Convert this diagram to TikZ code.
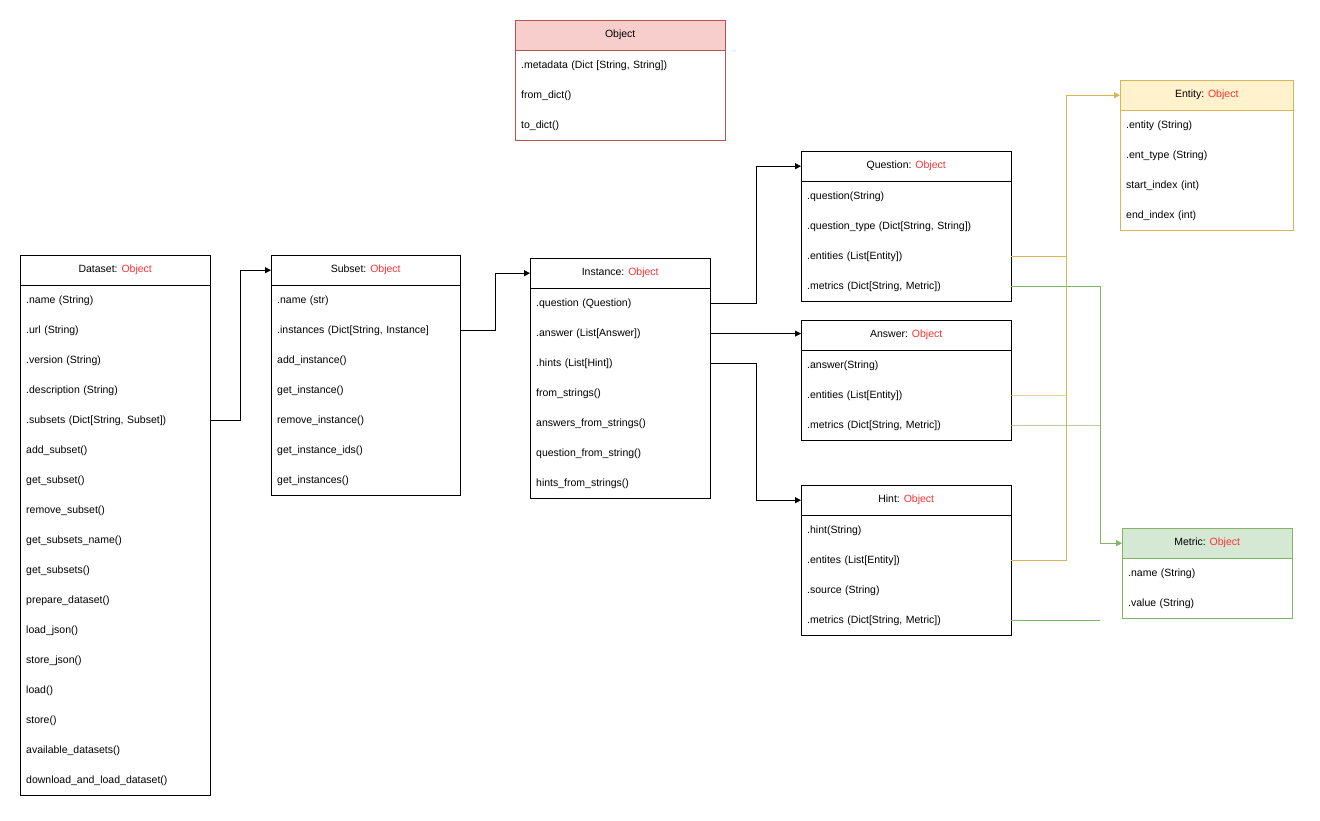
\documentclass[tikz,border=0pt]{standalone}
\usepackage{fontspec}
\setmainfont{Liberation Sans}
\usepackage{xcolor}
\usetikzlibrary{arrows.meta,positioning,calc}
\definecolor{objred}{HTML}{FF3333}
\definecolor{redfill}{HTML}{F8CECC}
\definecolor{reddraw}{HTML}{B85450}
\definecolor{yelfill}{HTML}{FFF2CC}
\definecolor{yeldraw}{HTML}{D6B656}
\definecolor{grnfill}{HTML}{D5E8D4}
\definecolor{grndraw}{HTML}{82B366}
\tikzset{
  hdr/.style={draw,anchor=north west,minimum height=30,inner sep=0pt,font=\fontsize{10.5}{12}\selectfont},
  row/.style={anchor=north west,minimum height=30,inner xsep=6,inner ysep=0pt,align=left,font=\fontsize{10.5}{12}\selectfont},
  conn/.style={-{Triangle[length=6pt,width=6pt]},line width=0.8pt},
}
% #1 header style, #2 name, #3 x, #4 y, #5 width, #6 height, #7 header, #8 rows
\newcommand{\classbox}[8][]{%
  \node[hdr,minimum width=#5,#1] (#2) at (#3,#4) {#7};
  \foreach \r [count=\i] in {#8}
    \node[row,text width=#5-12] (#2-\i) at ($(#2.south west)+(0,30*\i-30)$) {\r};
  \draw[#1,fill=none] (#2.north west) rectangle ++(#5,#6);
}
\begin{document}
\begin{tikzpicture}[x=1pt,y=-1pt]
  \useasboundingbox[fill=white] (0,0) rectangle (1320,820);

  \classbox[fill=redfill,draw=reddraw]{obj}{515}{20}{210}{120}{Object}
    {{.metadata (Dict [String, String])},from\_dict(),to\_dict()}
  \classbox{ds}{20}{255}{190}{540}{Dataset: \textcolor{objred}{Object}}
    {.name (String),.url (String),.version (String),.description (String),
     {.subsets (Dict[String, Subset])},add\_subset(),get\_subset(),remove\_subset(),
     get\_subsets\_name(),get\_subsets(),prepare\_dataset(),load\_json(),store\_json(),
     load(),store(),available\_datasets(),download\_and\_load\_dataset()}
  \classbox{sub}{271}{255}{189}{240}{Subset: \textcolor{objred}{Object}}
    {.name (str),{.instances (Dict[String, Instance]},add\_instance(),get\_instance(),
     remove\_instance(),get\_instance\_ids(),get\_instances()}
  \classbox{ins}{530}{258}{180}{240}{Instance: \textcolor{objred}{Object}}
    {.question (Question),.answer (List[Answer]),.hints (List[Hint]),from\_strings(),
     answers\_from\_strings(),question\_from\_string(),hints\_from\_strings()}
  \classbox{que}{801}{151}{210}{150}{Question: \textcolor{objred}{Object}}
    {.question(String),{.question\_type (Dict[String, String])},.entities (List[Entity]),
     {.metrics (Dict[String, Metric])}}
  \classbox{ans}{801}{320}{210}{120}{Answer: \textcolor{objred}{Object}}
    {.answer(String),.entities (List[Entity]),{.metrics (Dict[String, Metric])}}
  \classbox{hin}{801}{485}{210}{150}{Hint: \textcolor{objred}{Object}}
    {.hint(String),.entites (List[Entity]),.source (String),{.metrics (Dict[String, Metric])}}
  \classbox[fill=yelfill,draw=yeldraw]{ent}{1120}{80}{173}{150}{Entity: \textcolor{objred}{Object}}
    {.entity (String),.ent\_type (String),start\_index (int),end\_index (int)}
  \classbox[fill=grnfill,draw=grndraw]{met}{1122}{528}{170}{90}{Metric: \textcolor{objred}{Object}}
    {.name (String),.value (String)}

  \coordinate (ebus) at (1066,0);
  \coordinate (mbus) at (1100,0);

  \draw[conn] (ds-5.east) -- ++(30,0) |- (sub.west);
  \draw[conn] (sub-2.east) -- ++(35,0) |- (ins.west);
  \draw[conn] (ins-1.east) -- ++(46,0) |- (que.west);
  \draw[conn] (ins-2.east) -- (ins-2.east -| ans.west);
  \draw[conn] (ins-3.east) -- ++(46,0) |- (hin.west);

  % entity links
  \draw[yeldraw,line width=0.8pt] (que-3.east) -- (que-3.east -| ebus);
  \draw[yeldraw,opacity=0.6] (ans-2.east) -- (ans-2.east -| ebus);
  \draw[conn,yeldraw] (hin-2.east) -- (hin-2.east -| ebus) |- (ent.west);

  % metric links
  \draw[conn,grndraw] (que-4.east) -- (que-4.east -| mbus) |- (met.west);
  \draw[grndraw,opacity=0.6] (ans-3.east) -- (ans-3.east -| mbus);
  \draw[grndraw,line width=0.8pt] (hin-4.east) -- (hin-4.east -| mbus);
\end{tikzpicture}
\end{document}
